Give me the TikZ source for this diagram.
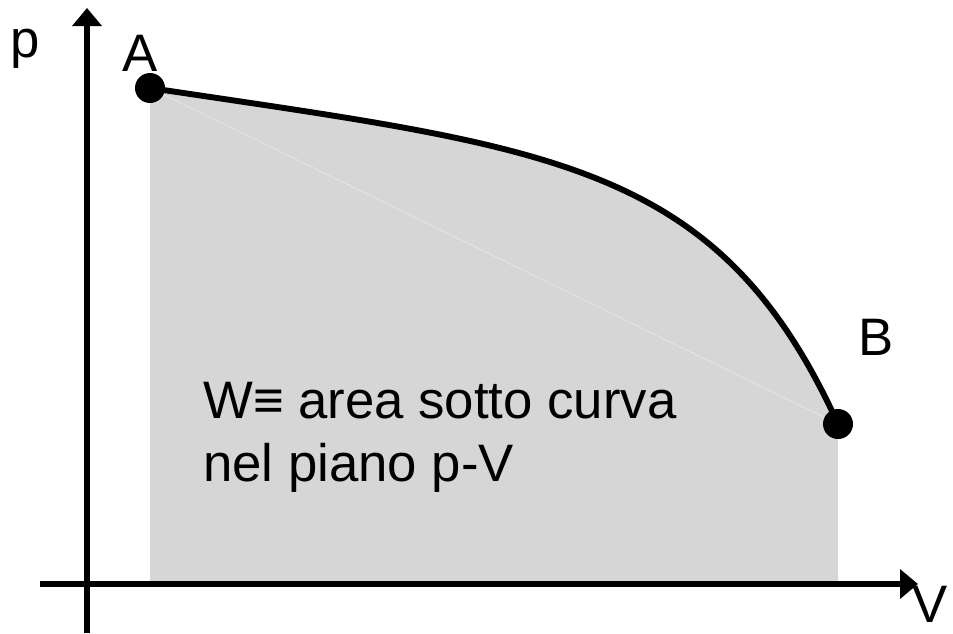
\documentclass[tikz,border=0pt]{standalone}
\usepackage{fontspec}
\setmainfont{Liberation Sans}
\usetikzlibrary{arrows.meta}
\definecolor{areagrigia}{RGB}{214,214,214}
\definecolor{cordagrigia}{RGB}{229,229,229}

\begin{document}
\begin{tikzpicture}[x=0.025cm, y=-0.025cm,
      asse/.style={line width=4.2pt, -{Triangle[width=0.72cm, length=0.45cm]}},
      curva/.style={line width=4.2pt},
      punto/.style={circle, fill=black, minimum size=0.75cm, inner sep=0pt},
      etich/.style={font=\fontsize{37.5pt}{44.8pt}\selectfont, inner sep=0pt}]
      \useasboundingbox (0,0) rectangle (953,633);

      % stati iniziale e finale
      \coordinate (pA) at (150,88);
      \coordinate (pB) at (838,424);
      \coordinate (fA) at (150,584);
      \coordinate (fB) at (838,584);

      % area sotto la curva
      \fill[areagrigia] (fA) -- (pA) .. controls (550,148) and (718,160) .. (pB) -- (fB) -- cycle;
      \draw[cordagrigia, line width=0.6pt] (pA) -- (pB);

      % assi
      \coordinate (xini) at (40,584);
      \coordinate (xfin) at (918,584);
      \coordinate (yini) at (87,633);
      \coordinate (yfin) at (87,8);
      \draw[asse] (xini) -- (xfin);
      \draw[asse] (yini) -- (yfin);

      % trasformazione A -> B
      \draw[curva] (pA) .. controls (550,148) and (718,160) .. (pB);
      \node[punto] (A) at (pA) {};
      \node[punto] (B) at (pB) {};

      % etichette
      \node[etich, anchor=base] (labp) at (25,57) {p};
      \node[etich, anchor=north east] (labV) at (948,586) {V};
      \node[etich, anchor=base] (labA) at (140,71) {A};
      \node[etich, anchor=base] (labB) at (876,355) {B};
      \node[etich, anchor=north west, align=left] (testo) at (203,382) {W≡ area sotto curva\\ nel piano p-V};
    \end{tikzpicture}
\end{document}
